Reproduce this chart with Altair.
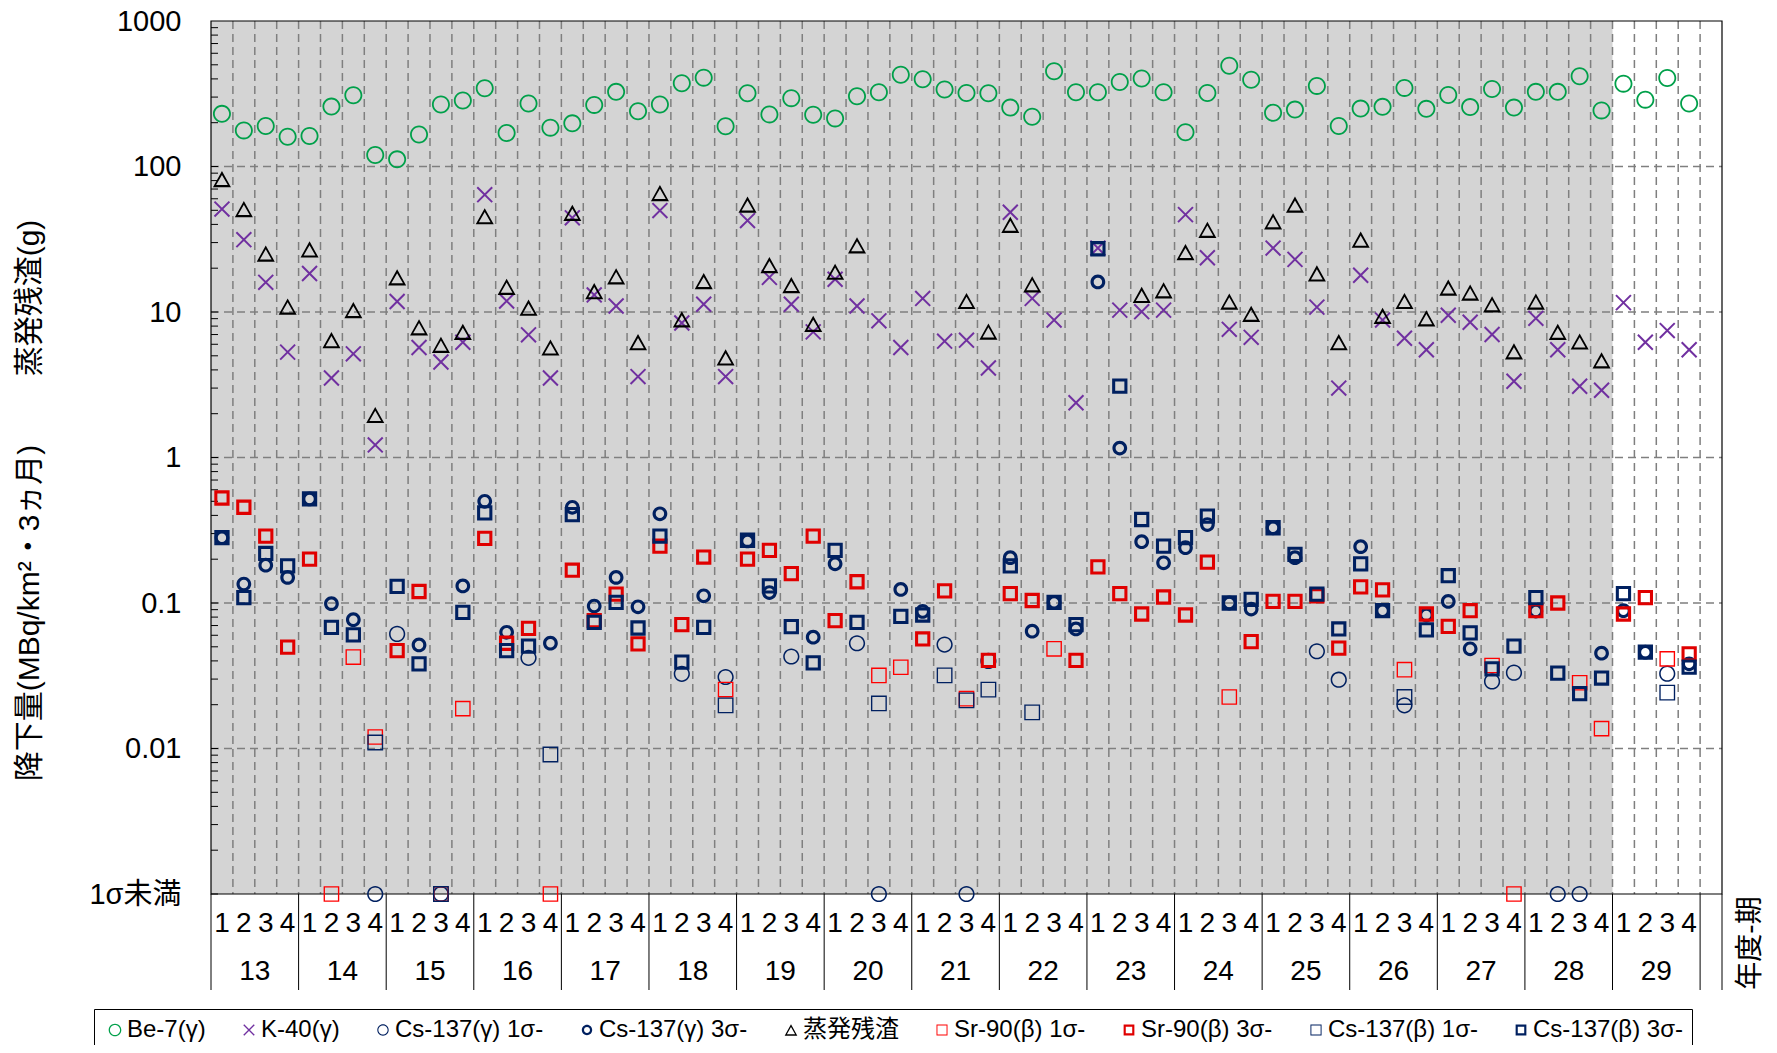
import altair as alt
import pandas as pd

# ---------------- data ----------------
years = ["13", "14", "15", "16", "17", "18", "19", "20", "21",
         "22", "23", "24", "25", "26", "27", "28", "29"]
quarters = ["1", "2", "3", "4"]

series = ["Be-7(γ)", "K-40(γ)", "Cs-137(γ) 1σ-", "Cs-137(γ) 3σ-", "蒸発残渣",
          "Sr-90(β) 1σ-", "Sr-90(β) 3σ-", "Cs-137(β) 1σ-", "Cs-137(β) 3σ-"]

be7 = [230, 177, 190, 160, 162, 258, 309, 120, 112, 166, 267, 284, 345, 170, 271, 185,
       198, 265, 326, 240, 267, 373, 408, 189, 319, 228, 295, 227, 214, 304, 324, 427,
       398, 338, 320, 319, 254, 220, 451, 324, 324, 381, 403, 324, 172, 320, 492, 395,
       234, 246, 358, 190, 250, 257, 347, 249, 310, 256, 341, 254, 326, 326, 417, 243,
       371, 288, 406, 271]

k40 = [51, 31.4, 16, 5.3, 18.4, 3.52, 5.16, 1.22, 11.8, 5.7, 4.53, 6.2, 64, 11.9, 6.97, 3.52,
       44.4, 13.1, 11, 3.6, 49.8, 8.4, 11.3, 3.6, 42.5, 17.3, 11.3, 7.3, 16.8, 11, 8.7, 5.7,
       12.4, 6.3, 6.4, 4.12, 48.5, 12.4, 8.8, 2.38, 27.5, 10.3, 10.05, 10.3, 46.7, 23.6, 7.6, 6.7,
       27.5, 23, 10.8, 3.0, 17.9, 8.8, 6.6, 5.5, 9.5, 8.5, 7.0, 3.34, 9.05, 5.5, 3.09, 2.9,
       11.6, 6.2, 7.45, 5.5]

residue = [81.9, 51, 25.2, 10.9, 26.9, 6.4, 10.3, 1.96, 17.3, 7.85, 5.95, 7.3, 45.5, 14.9, 10.7, 5.7,
           48, 13.9, 17.6, 6.2, 65.7, 8.9, 16.3, 4.87, 54.7, 21, 15.3, 8.28, 18.9, 28.7, None, None,
           None, None, 11.9, 7.34, 39.7, 15.5, None, None, None, None, 13.1, 14.1, 25.8, 36.7, 11.8, 9.7,
           42, 54.7, 18.4, 6.2, 31.4, 9.4, 11.9, 9.05, 14.7, 13.6, 11.3, 5.36, 11.8, 7.3, 6.27, 4.65,
           None, None, None, None]

# flags: "3" = 3σ detected, "1" = 1σ only, "<" = below 1σ (drawn on the 1σ未満 line)
cs_g = [0.281, 0.135, 0.182, 0.15, 0.519, 0.099, 0.0768, None, 0.0613, 0.0515, None, 0.131, 0.5, 0.0629, 0.042, 0.0529,
        0.455, 0.0953, 0.15, 0.0942, 0.41, 0.0326, 0.112, 0.031, 0.267, 0.118, 0.0429, 0.0582, 0.186, 0.0529, None, 0.124,
        0.0875, 0.0518, None, 0.04, 0.205, 0.064, 0.101, 0.0663, 16.1, 1.16, 0.264, 0.189, 0.24, 0.346, 0.1, 0.0908,
        0.329, 0.205, 0.0466, 0.0297, 0.244, 0.0885, 0.0198, 0.0827, 0.1025, 0.0484, 0.0289, 0.0332, 0.088, None, None, 0.0452,
        0.0885, 0.0459, 0.0327, 0.0382]
cs_g_flag = ["3", "3", "3", "3", "3", "3", "3", "<", "1", "3", "<", "3", "3", "3", "1", "3",
             "3", "3", "3", "3", "3", "1", "3", "1", "3", "3", "1", "3", "3", "1", "<", "3",
             "3", "1", "<", "1", "3", "3", "3", "3", "3", "3", "3", "3", "3", "3", "3", "3",
             "3", "3", "1", "1", "3", "3", "1", "3", "3", "3", "1", "1", "3", "<", "<", "3",
             "3", "3", "1", "3"]

sr90 = [0.527, 0.455, 0.288, 0.0497, 0.2, None, 0.0425, 0.012, 0.0471, 0.12, None, 0.0188, 0.278, 0.0529, 0.067, None,
        0.168, 0.0756, 0.115, 0.0524, 0.246, 0.071, 0.207, 0.0254, 0.2, 0.23, 0.159, 0.288, 0.0756, 0.14, 0.0318, 0.0362,
        0.0566, 0.121, 0.022, 0.0403, 0.116, 0.104, 0.0484, 0.0403, 0.177, 0.116, 0.084, 0.11, 0.0827, 0.191, 0.0226, 0.0543,
        0.1025, 0.1025, 0.112, 0.0489, 0.129, 0.123, 0.0348, 0.084, 0.0691, 0.0885, 0.0372, None, 0.0885, 0.1, 0.0283, 0.0137,
        0.084, 0.109, 0.0413, 0.0447]
sr90_flag = ["3", "3", "3", "3", "3", "<", "1", "1", "3", "3", "<", "1", "3", "3", "3", "<",
             "3", "3", "3", "3", "3", "3", "3", "1", "3", "3", "3", "3", "3", "3", "1", "1",
             "3", "3", "1", "3", "3", "3", "1", "3", "3", "3", "3", "3", "3", "3", "1", "3",
             "3", "3", "3", "3", "3", "3", "1", "3", "3", "3", "1", "<", "3", "3", "1", "1",
             "3", "3", "1", "3"]

cs_b = [0.281, 0.109, 0.219, 0.18, 0.519, 0.068, 0.0603, 0.011, 0.13, 0.0382, None, 0.0862, 0.416, 0.0471, 0.0505, 0.0091,
        0.405, 0.0736, 0.101, 0.0673, 0.288, 0.0392, 0.068, 0.0198, 0.27, 0.131, 0.0688, 0.0388, 0.23, 0.0736, 0.0204, 0.0809,
        0.0827, 0.0318, 0.0214, 0.0254, 0.18, 0.0177, 0.101, 0.071, 27.2, 3.09, 0.375, 0.246, 0.281, 0.395, 0.1, 0.106,
        0.329, 0.216, 0.115, 0.0663, 0.186, 0.0885, 0.0226, 0.0653, 0.154, 0.0623, 0.0353, 0.0505, 0.109, 0.033, 0.0238, 0.0305,
        0.116, 0.0459, 0.0242, 0.0362]
cs_b_flag = ["3", "3", "3", "3", "3", "3", "3", "1", "3", "3", "<", "3", "3", "3", "3", "1",
             "3", "3", "3", "3", "3", "3", "3", "1", "3", "3", "3", "3", "3", "3", "1", "3",
             "3", "1", "1", "1", "3", "1", "3", "3", "3", "3", "3", "3", "3", "3", "3", "3",
             "3", "3", "3", "3", "3", "3", "1", "3", "3", "3", "3", "3", "3", "3", "3", "3",
             "3", "3", "1", "3"]

y_tick_values = [0.001, 0.01, 0.1, 1, 10, 100, 1000]
grid_values = [0.01, 0.1, 1, 10, 100]
FLOOR = 0.001  # position of the "1σ未満" line

# ---------------- styling ----------------
FONT = "Liberation Sans, Arial, Noto Sans CJK JP, sans-serif"
W, H = 1511, 873
TOP = 13
NSLOT = len(years) * 4 + 1          # one empty slot after the last year
GRAY_SLOTS = (len(years) - 1) * 4   # shaded part (13-28)

def ring(ro, ri):
    return (f"M{ro},0A{ro},{ro},0,1,1,{-ro},0A{ro},{ro},0,1,1,{ro},0Z"
            f"M{ri},0A{ri},{ri},0,1,0,{-ri},0A{ri},{ri},0,1,0,{ri},0Z")

def frame(ho, hi):
    return (f"M{-ho},{-ho}L{ho},{-ho}L{ho},{ho}L{-ho},{ho}Z"
            f"M{-hi},{-hi}L{-hi},{hi}L{hi},{hi}L{hi},{-hi}Z")

tri = "M0,-0.9L1.0,0.9L-1.0,0.9ZM0,-0.47L-0.65,0.66L0.65,0.66Z"
xmark = ("M-0.752,-0.908L0.908,0.752L0.752,0.908L-0.908,-0.752Z"
         "M0.908,-0.752L-0.752,0.908L-0.908,0.752L0.752,-0.908Z")

shapes = [ring(1.0, 0.8), xmark, ring(0.9, 0.73), ring(0.82, 0.47), tri,
          frame(0.87, 0.72), frame(0.85, 0.51), frame(0.88, 0.73), frame(0.85, 0.51)]
colors = ["#00A04A", "#7030A0", "#002060", "#002060", "#000000",
          "#FF0000", "#E00000", "#002060", "#002060"]

# ---------------- tables ----------------
rows = []
def add(vals, name):
    for i, v in enumerate(vals):
        if v is not None:
            rows.append({"x": i + 0.5, "v": v, "s": name})

def add_flagged(vals, flags, name1, name3):
    for want, name in (("1", name1), ("3", name3)):
        for i, (v, f) in enumerate(zip(vals, flags)):
            if want == "1" and f == "<":
                rows.append({"x": i + 0.5, "v": FLOOR, "s": name})
            elif f == want:
                rows.append({"x": i + 0.5, "v": v, "s": name})

add(be7, series[0])
add(k40, series[1])
add_flagged(cs_g, cs_g_flag, series[2], series[3])
add(residue, series[4])
add_flagged(sr90, sr90_flag, series[5], series[6])
add_flagged(cs_b, cs_b_flag, series[7], series[8])
pts_df = pd.DataFrame(rows)

qlab_df = pd.DataFrame({"x": [i + 0.5 for i in range(len(years) * 4)],
                        "t": [quarters[i % 4] for i in range(len(years) * 4)]})
ylab_df = pd.DataFrame({"x": [i * 4 + 2 for i in range(len(years))], "t": years})
sep_df = pd.DataFrame({"x": [i * 4 for i in range(len(years) + 1)] + [NSLOT]})
vgrid_df = pd.DataFrame({"x": list(range(1, NSLOT))})
minor_df = pd.DataFrame({"v": [m * 10.0 ** k for k in range(-3, 3) for m in range(1, 10)]})

xs = alt.Scale(domain=[0, NSLOT], nice=False, zero=False)
ys = alt.Scale(type="log", domain=[0.001, 1000], nice=False)
X = lambda: alt.X("x:Q", scale=xs, axis=None)

yaxis = alt.Axis(values=y_tick_values, title=None, ticks=False, domain=False, grid=False,
                 labelFont=FONT, labelFontSize=29, labelColor="black", labelPadding=30,
                 labelOverlap=False,
                 labelExpr="datum.value < 0.005 ? '1σ未満' : (datum.value < 1 ? format(datum.value, '.2~f') : format(datum.value, 'd'))")
Y = lambda: alt.Y("v:Q", scale=ys, axis=yaxis)

bg = alt.Chart(pd.DataFrame({"x": [0], "x2": [GRAY_SLOTS]})).mark_rect(color="#D4D4D4").encode(
    x=X(), x2="x2:Q", y=alt.value(0), y2=alt.value(H))

hgrid = alt.Chart(pd.DataFrame({"v": grid_values})).mark_rule(
    color="#7F7F7F", strokeWidth=1.5, strokeDash=[8, 5]).encode(
    y=Y(), x=alt.value(0), x2=alt.value(W))

vgrid = alt.Chart(vgrid_df).mark_rule(
    color="#7F7F7F", strokeWidth=1.5, strokeDash=[8, 5]).encode(
    x=X(), y=alt.value(0), y2=alt.value(H))

minor = alt.Chart(minor_df).mark_rule(color="black", strokeWidth=1).encode(
    y=Y(), x=alt.value(0), x2=alt.value(7))

leg = alt.Legend(orient="none", legendX=-117, legendY=1009 - 8 - TOP, direction="horizontal",
                 title=None, labelFont=FONT, labelFontSize=24, labelColor="black",
                 labelLimit=400, symbolSize=160, symbolStrokeWidth=0,
                 strokeColor="black", fillColor="white", padding=9,
                 columnPadding=31, labelOffset=0)

pts = alt.Chart(pts_df).mark_point(filled=True, size=324, opacity=1, strokeWidth=0).encode(
    x=X(),
    y=Y(),
    shape=alt.Shape("s:N", scale=alt.Scale(domain=series, range=shapes), legend=leg),
    color=alt.Color("s:N", scale=alt.Scale(domain=series, range=colors), legend=leg),
)

border = alt.Chart(pd.DataFrame({"a": [0]})).mark_rect(
    fillOpacity=0, stroke="black", strokeWidth=1.2).encode(
    x=alt.value(0), x2=alt.value(W), y=alt.value(0), y2=alt.value(H))

qlab = alt.Chart(qlab_df).mark_text(font=FONT, fontSize=28, color="black",
                                    align="center", baseline="middle").encode(
    x=X(), y=alt.value(H + 30), text="t:N")
ylab = alt.Chart(ylab_df).mark_text(font=FONT, fontSize=28, color="black",
                                    align="center", baseline="middle").encode(
    x=X(), y=alt.value(H + 78), text="t:N")
seps = alt.Chart(sep_df).mark_rule(color="black", strokeWidth=1).encode(
    x=X(), y=alt.value(H), y2=alt.value(H + 96))

def vtext(txt, px, py, fs):
    return alt.Chart(pd.DataFrame({"t": [txt]})).mark_text(
        font=FONT, fontSize=fs, color="black", angle=270,
        align="center", baseline="middle").encode(
        x=alt.value(px), y=alt.value(py), text="t:N")

t1 = vtext("蒸発残渣(g)", -181, 277, 30)
t2 = vtext("降下量(MBq/km²・3ヵ月)", -181, 592, 30)
t3 = vtext("年度-期", 1540, H + 49, 28)

chart = alt.layer(bg, hgrid, vgrid, minor, border, pts, qlab, ylab, seps, t1, t2, t3).properties(
    width=W, height=H,
    autosize=alt.AutoSizeParams(type="none"),
    padding={"left": 203, "top": TOP, "right": 45, "bottom": 1037 - TOP - H},
).configure_view(stroke=None)

chart.save("out.html", embed_options={"renderer": "svg", "actions": False})
